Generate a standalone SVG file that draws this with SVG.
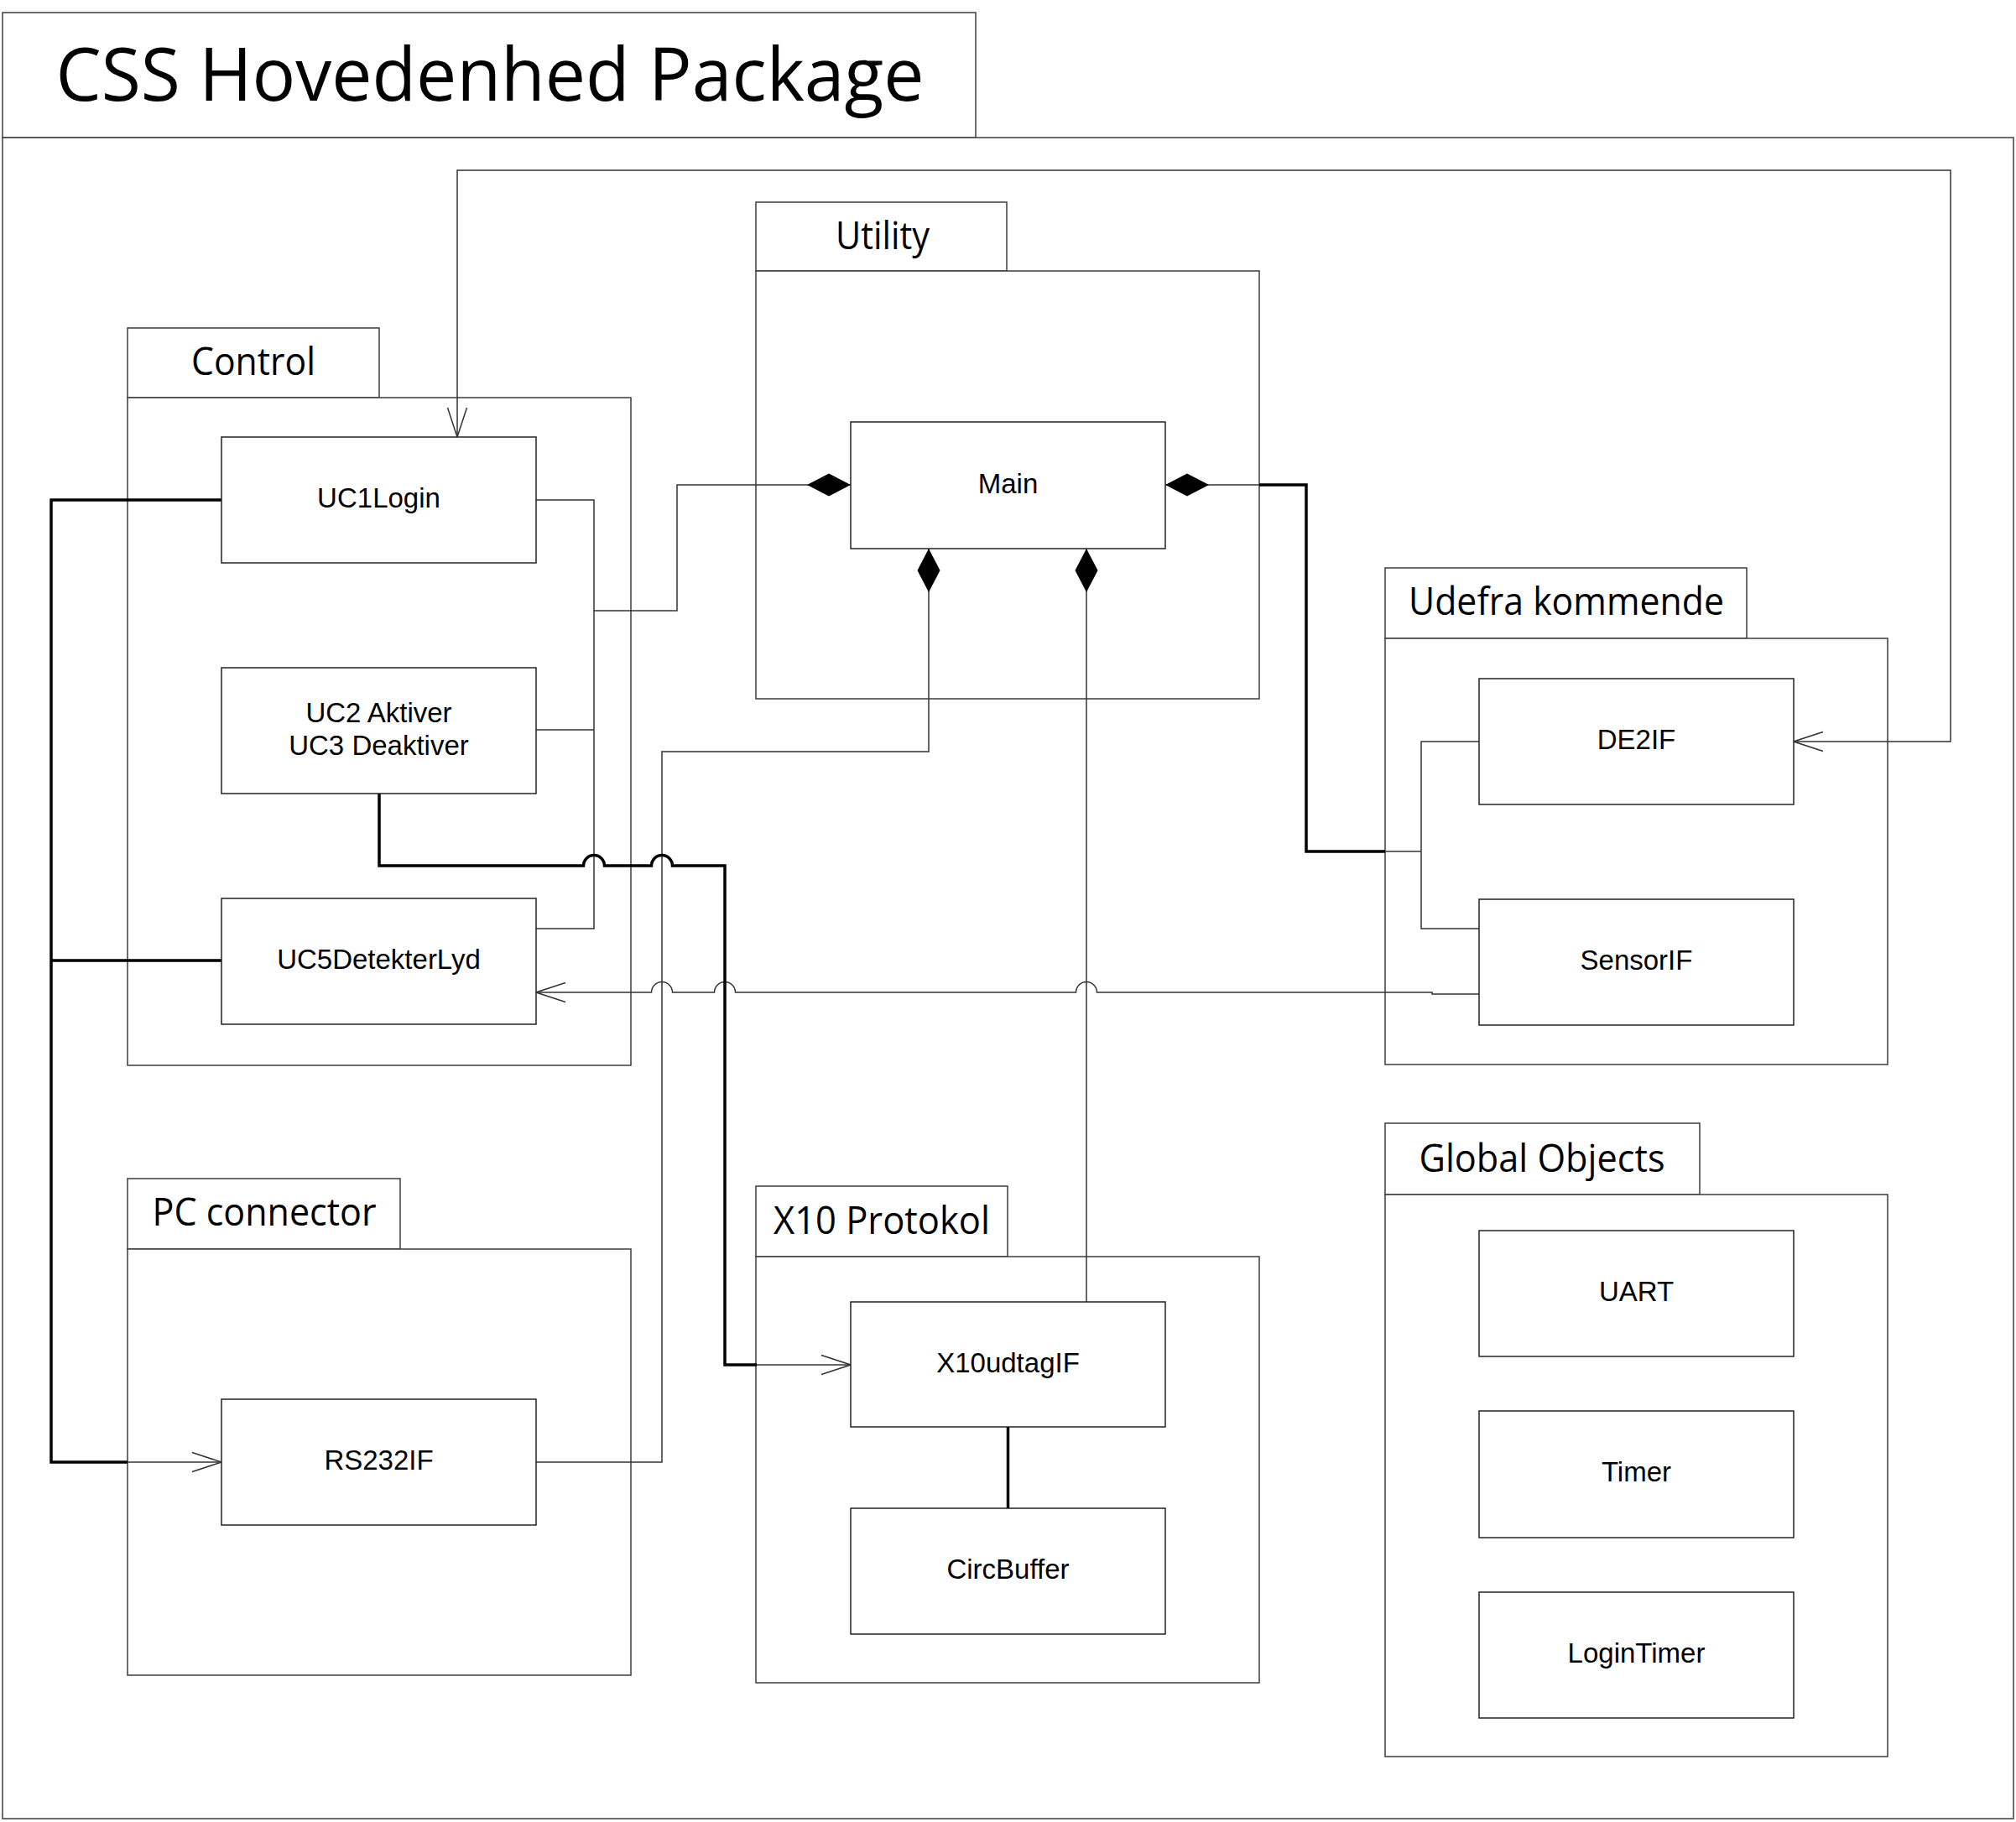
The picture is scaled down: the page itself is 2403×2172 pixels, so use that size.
<svg xmlns="http://www.w3.org/2000/svg" width="2403" height="2172" viewBox="0 0 2403 2172">
<style>
.pkg{fill:#fff;stroke:#3c3c3c;stroke-width:1.5}
.cls{fill:#fff;stroke:#222;stroke-width:1.5}
.lbl{font-family:'Liberation Sans',Arial,sans-serif;font-size:33px;fill:#000;text-anchor:middle}
.ptl{font-family:'Open Sans','Noto Sans',sans-serif;font-size:45px;fill:#000;text-anchor:middle}
.c{fill:none;stroke:#333;stroke-width:1.5}
.t{fill:none;stroke:#000;stroke-width:3.5}
</style>
<defs>
<marker id="open" markerUnits="userSpaceOnUse" markerWidth="40" markerHeight="30" viewBox="-38 -15 40 30" refX="0" refY="0" orient="auto-start-reverse">
<path d="M-35 -11.5 L0 0 L-35 11.5" fill="none" stroke="#333" stroke-width="1.5"/>
</marker>
<marker id="dia" markerUnits="userSpaceOnUse" markerWidth="56" markerHeight="32" viewBox="-2 -16 56 32" refX="0" refY="0" orient="auto">
<path d="M0 0 L26 -13.5 L52 0 L26 13.5 Z" fill="#000"/>
</marker>
</defs>
<rect width="2403" height="2172" fill="#fff"/>

<g id="pkg-css">
<rect class="pkg" x="3" y="15" width="1160" height="149"/>
<rect class="pkg" x="3" y="164" width="2397" height="2004"/>
<text class="ptl" x="584" y="120" style="font-size:87px" textLength="1035" lengthAdjust="spacingAndGlyphs">CSS Hovedenhed Package</text>
</g>

<g id="pkg-utility">
<rect class="pkg" x="901" y="241" width="299" height="82"/>
<rect class="pkg" x="901" y="323" width="600" height="510"/>
<text class="ptl" x="1052" y="297" textLength="112" lengthAdjust="spacingAndGlyphs">Utility</text>
</g>

<g id="pkg-control">
<rect class="pkg" x="152" y="391" width="300" height="83"/>
<rect class="pkg" x="152" y="474" width="600" height="796"/>
<text class="ptl" x="302" y="447" textLength="148" lengthAdjust="spacingAndGlyphs">Control</text>
</g>

<g id="pkg-udefra">
<rect class="pkg" x="1651" y="677" width="431" height="84"/>
<rect class="pkg" x="1651" y="761" width="599" height="508"/>
<text class="ptl" x="1867" y="733" textLength="376" lengthAdjust="spacingAndGlyphs">Udefra kommende</text>
</g>

<g id="pkg-pc">
<rect class="pkg" x="152" y="1405" width="325" height="84"/>
<rect class="pkg" x="152" y="1489" width="600" height="508"/>
<text class="ptl" x="315" y="1461" textLength="267" lengthAdjust="spacingAndGlyphs">PC connector</text>
</g>

<g id="pkg-x10">
<rect class="pkg" x="901" y="1414" width="300" height="84"/>
<rect class="pkg" x="901" y="1498" width="600" height="508"/>
<text class="ptl" x="1051" y="1471" textLength="258" lengthAdjust="spacingAndGlyphs">X10 Protokol</text>
</g>

<g id="pkg-global">
<rect class="pkg" x="1651" y="1339" width="375" height="85"/>
<rect class="pkg" x="1651" y="1424" width="599" height="670"/>
<text class="ptl" x="1838" y="1397" textLength="293" lengthAdjust="spacingAndGlyphs">Global Objects</text>
</g>

<g id="connectors">
<path class="c" d="M2138 884 H2325 V203 H545 V521" marker-start="url(#open)" marker-end="url(#open)"/>
<path class="c" d="M1014 578 H807 V728 H708" marker-start="url(#dia)"/>
<path class="c" d="M639 596 H708 V1107 H639 M639 870 H708"/>
<path class="c" d="M1107 654 V896 H789 V1743 H639" marker-start="url(#dia)"/>
<path class="c" d="M1295 654 V1552" marker-start="url(#dia)"/>
<path class="c" d="M1389 578 H1501" marker-start="url(#dia)"/>
<path class="t" d="M1501 578 H1557 V1015 H1651"/>
<path class="c" d="M1651 1015 H1694"/>
<path class="c" d="M1763 884 H1694 V1107 H1763"/>
<path class="c" d="M1763 1185 H1707 V1183 H1307.5 A12.5 12.5 0 0 0 1282.5 1183 H876.5 A12.5 12.5 0 0 0 851.5 1183 H801.5 A12.5 12.5 0 0 0 776.5 1183 H639" marker-end="url(#open)"/>
<path class="t" d="M264 596 H61 V1743 H152 M61 1145 H264"/>
<path class="c" d="M152 1743 H264" marker-end="url(#open)"/>
<path class="t" d="M452 946 V1032 H695.5 A12.5 12.5 0 0 1 720.5 1032 H776.5 A12.5 12.5 0 0 1 801.5 1032 H864 V1627 H902"/>
<path class="c" d="M902 1627 H1014" marker-end="url(#open)"/>
<path class="t" d="M1201.5 1701 V1798"/>
</g>

<g id="UC1Login"><rect class="cls" x="264" y="521" width="375" height="150"/><text class="lbl" x="451.5" y="605">UC1Login</text></g>
<g id="UC2UC3"><rect class="cls" x="264" y="796" width="375" height="150"/><text class="lbl" x="451.5" y="861">UC2 Aktiver</text><text class="lbl" x="451.5" y="900">UC3 Deaktiver</text></g>
<g id="UC5DetekterLyd"><rect class="cls" x="264" y="1071" width="375" height="150"/><text class="lbl" x="451.5" y="1155">UC5DetekterLyd</text></g>
<g id="RS232IF"><rect class="cls" x="264" y="1668" width="375" height="150"/><text class="lbl" x="451.5" y="1752">RS232IF</text></g>
<g id="Main"><rect class="cls" x="1014" y="503" width="375" height="151"/><text class="lbl" x="1201.5" y="588">Main</text></g>
<g id="X10udtagIF"><rect class="cls" x="1014" y="1552" width="375" height="149"/><text class="lbl" x="1201.5" y="1636">X10udtagIF</text></g>
<g id="CircBuffer"><rect class="cls" x="1014" y="1798" width="375" height="150"/><text class="lbl" x="1201.5" y="1882">CircBuffer</text></g>
<g id="DE2IF"><rect class="cls" x="1763" y="809" width="375" height="150"/><text class="lbl" x="1950.5" y="893">DE2IF</text></g>
<g id="SensorIF"><rect class="cls" x="1763" y="1072" width="375" height="150"/><text class="lbl" x="1950.5" y="1156">SensorIF</text></g>
<g id="UART"><rect class="cls" x="1763" y="1467" width="375" height="150"/><text class="lbl" x="1950.5" y="1551">UART</text></g>
<g id="Timer"><rect class="cls" x="1763" y="1682" width="375" height="151"/><text class="lbl" x="1950.5" y="1766">Timer</text></g>
<g id="LoginTimer"><rect class="cls" x="1763" y="1898" width="375" height="150"/><text class="lbl" x="1950.5" y="1982">LoginTimer</text></g>
</svg>
